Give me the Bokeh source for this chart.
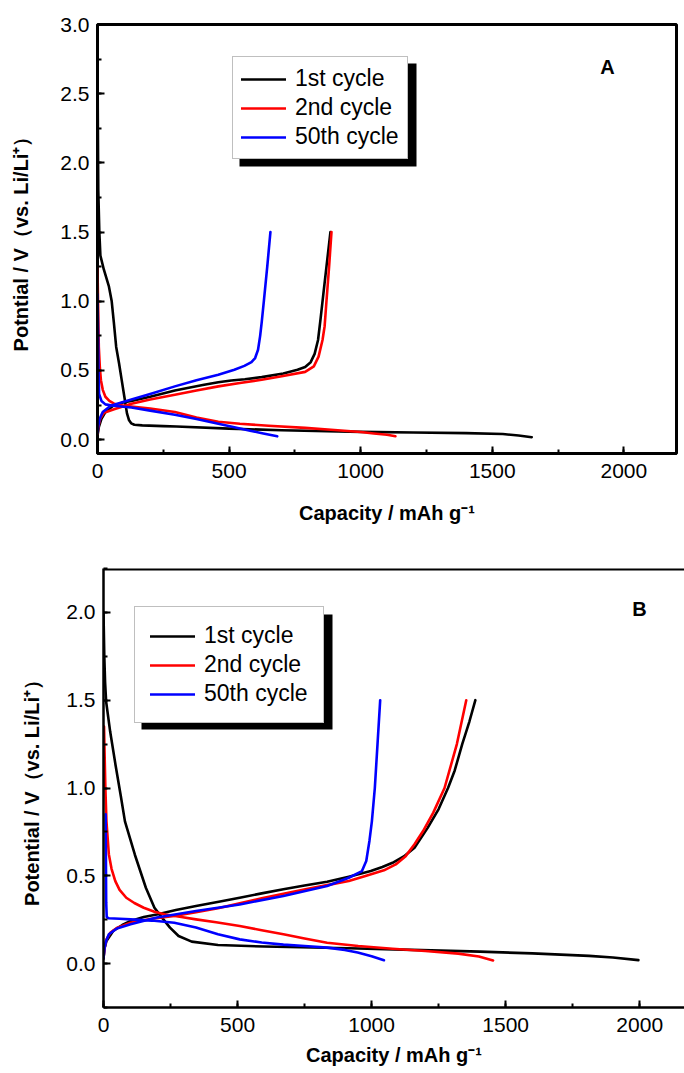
from bokeh.plotting import figure
from bokeh.models import (Legend, LegendItem, SingleIntervalTicker, Range1d,
                          BoxAnnotation, Label, Span, PrintfTickFormatter, Spacer)
from bokeh.layouts import column, row
from bokeh.embed import file_html
from bokeh.resources import INLINE

FONT = "Liberation Sans"

# ---------------- data: panel A ----------------
a1_dis_x = [0, 1, 3, 7, 11, 24, 43, 54, 62, 71, 82, 92, 102, 112, 120, 128, 140, 170, 250, 300, 500, 700, 1000, 1200, 1400, 1540, 1600, 1650]
a1_dis_y = [2.95, 2.4, 1.8, 1.5, 1.33, 1.23, 1.11, 1.0, 0.85, 0.67, 0.55, 0.43, 0.31, 0.19, 0.14, 0.118, 0.108, 0.103, 0.098, 0.095, 0.08, 0.068, 0.056, 0.052, 0.047, 0.041, 0.03, 0.018]
a1_chg_x = [0, 5, 15, 30, 60, 100, 129, 200, 294, 400, 459, 508, 560, 624, 706, 760, 789, 810, 825, 838, 848, 858, 870, 885]
a1_chg_y = [0.03, 0.09, 0.15, 0.2, 0.245, 0.27, 0.28, 0.31, 0.355, 0.395, 0.415, 0.428, 0.437, 0.452, 0.478, 0.505, 0.525, 0.56, 0.62, 0.72, 0.88, 1.05, 1.25, 1.5]

a2_dis_x = [0, 2, 5, 9, 13, 20, 30, 45, 63, 100, 129, 200, 294, 376, 459, 541, 650, 789, 900, 1000, 1050, 1100, 1132]
a2_dis_y = [1.25, 1.0, 0.67, 0.52, 0.43, 0.36, 0.31, 0.28, 0.26, 0.245, 0.24, 0.225, 0.2, 0.16, 0.13, 0.115, 0.1, 0.085, 0.07, 0.055, 0.045, 0.035, 0.025]
a2_chg_x = [0, 4, 10, 25, 63, 129, 200, 294, 376, 459, 541, 624, 700, 789, 822, 840, 855, 863, 870, 880, 889]
a2_chg_y = [0.04, 0.1, 0.15, 0.195, 0.22, 0.26, 0.29, 0.325, 0.355, 0.385, 0.41, 0.433, 0.458, 0.49, 0.53, 0.6, 0.72, 0.82, 1.0, 1.25, 1.5]

a50_dis_x = [0, 2, 4, 6, 15, 30, 60, 129, 200, 294, 376, 459, 520, 580, 630, 683]
a50_dis_y = [1.05, 0.8, 0.5, 0.33, 0.28, 0.255, 0.245, 0.232, 0.21, 0.18, 0.15, 0.115, 0.09, 0.065, 0.045, 0.024]
a50_chg_x = [0, 3, 8, 20, 50, 129, 200, 294, 376, 459, 520, 558, 585, 599, 610, 618, 624, 632, 645, 657]
a50_chg_y = [0.05, 0.1, 0.15, 0.2, 0.245, 0.29, 0.33, 0.385, 0.43, 0.469, 0.505, 0.533, 0.56, 0.59, 0.65, 0.75, 0.85, 1.0, 1.25, 1.5]

# ---------------- data: panel B ----------------
b1_dis_x = [0, 3, 6, 10, 25, 45, 65, 80, 117, 158, 190, 218, 248, 280, 329, 427, 600, 915, 1150, 1404, 1600, 1811, 1900, 1995]
b1_dis_y = [2.0, 1.75, 1.6, 1.49, 1.32, 1.13, 0.95, 0.81, 0.62, 0.432, 0.318, 0.262, 0.205, 0.157, 0.125, 0.106, 0.097, 0.087, 0.078, 0.068, 0.058, 0.044, 0.035, 0.02]
b1_chg_x = [0, 3, 11, 36, 70, 101, 150, 199, 270, 345, 430, 508, 590, 671, 750, 834, 915, 997, 1040, 1078, 1120, 1160, 1209, 1250, 1285, 1310, 1338, 1365, 1387]
b1_chg_y = [0.03, 0.08, 0.129, 0.186, 0.22, 0.243, 0.265, 0.28, 0.305, 0.328, 0.352, 0.375, 0.4, 0.423, 0.445, 0.466, 0.495, 0.527, 0.55, 0.574, 0.61, 0.66, 0.773, 0.88, 1.0, 1.1, 1.25, 1.38, 1.5]

b2_dis_x = [2, 4, 7, 11, 20, 30, 44, 60, 85, 115, 150, 190, 231, 290, 345, 420, 508, 590, 671, 750, 834, 950, 1078, 1200, 1323, 1400, 1453]
b2_dis_y = [1.35, 1.2, 1.0, 0.81, 0.622, 0.54, 0.47, 0.42, 0.375, 0.345, 0.318, 0.295, 0.28, 0.265, 0.252, 0.235, 0.214, 0.19, 0.167, 0.143, 0.119, 0.1, 0.085, 0.072, 0.057, 0.04, 0.018]
b2_chg_x = [0, 4, 11, 25, 52, 101, 180, 264, 345, 427, 508, 590, 671, 753, 834, 915, 980, 1046, 1090, 1127, 1160, 1192, 1230, 1272, 1318, 1353]
b2_chg_y = [0.03, 0.09, 0.138, 0.175, 0.205, 0.233, 0.255, 0.271, 0.293, 0.315, 0.343, 0.372, 0.398, 0.423, 0.447, 0.47, 0.5, 0.531, 0.565, 0.612, 0.68, 0.755, 0.86, 1.0, 1.25, 1.5]

b50_dis_x = [8, 9, 10, 12, 20, 60, 101, 180, 264, 345, 427, 508, 590, 671, 750, 834, 900, 948, 1000, 1046]
b50_dis_y = [0.85, 0.6, 0.35, 0.265, 0.258, 0.255, 0.252, 0.245, 0.233, 0.205, 0.167, 0.138, 0.12, 0.108, 0.1, 0.091, 0.078, 0.063, 0.042, 0.019]
b50_chg_x = [0, 4, 10, 20, 50, 101, 199, 345, 508, 671, 834, 915, 964, 980, 992, 1001, 1012, 1022, 1032]
b50_chg_y = [0.03, 0.09, 0.13, 0.167, 0.2, 0.224, 0.262, 0.3, 0.337, 0.385, 0.442, 0.489, 0.527, 0.584, 0.7, 0.81, 1.0, 1.25, 1.5]

labels = ["1st cycle", "2nd cycle", "50th cycle"]
colors = ["black", "#ff0000", "#0000ff"]

LW = 2.6


def style_axis(ax, interval, label_standoff=8, title_standoff=10, fmt=None):
    ax.ticker = SingleIntervalTicker(interval=interval, num_minor_ticks=2)
    if fmt:
        ax.formatter = PrintfTickFormatter(format=fmt)
    ax.axis_line_width = 2.5
    ax.axis_line_color = "black"
    ax.major_tick_in = 7
    ax.major_tick_out = 0
    ax.minor_tick_in = 4
    ax.minor_tick_out = 0
    ax.major_tick_line_width = 2
    ax.minor_tick_line_width = 2
    ax.major_tick_line_color = "black"
    ax.minor_tick_line_color = "black"
    ax.major_label_text_font = FONT
    ax.major_label_text_font_size = "21px"
    ax.major_label_text_color = "black"
    ax.major_label_standoff = label_standoff
    ax.axis_label_text_font = FONT
    ax.axis_label_text_font_style = "bold"
    ax.axis_label_text_font_size = "20px"
    ax.axis_label_text_color = "black"
    ax.axis_label_standoff = title_standoff


def make_panel(width, height, borders, xmax, yr, ytitle, series, tag, tag_pos,
               legend_loc, legend_pad, shadow, outline, ylab_standoff, xlab_standoff, xtick_standoff):
    top, left, bottom, right = borders
    p = figure(width=width, height=height, output_backend="svg", toolbar_location=None,
               x_range=Range1d(0, xmax), y_range=Range1d(*yr),
               min_border_top=top, min_border_left=left, min_border_bottom=bottom,
               min_border_right=right, background_fill_color="white", border_fill_color="white")
    p.grid.visible = False
    p.outline_line_color = "black" if outline else None
    p.outline_line_width = 3
    style_axis(p.xaxis[0], 500, label_standoff=xtick_standoff, title_standoff=xlab_standoff)
    style_axis(p.yaxis[0], 0.5, label_standoff=8, title_standoff=ylab_standoff, fmt="%.1f")
    p.xaxis[0].axis_label = "Capacity / mAh g\u207b\u00b9"
    p.yaxis[0].axis_label = ytitle
    if not outline:
        p.add_layout(Span(location=yr[1], dimension="width", line_color="black", line_width=4))

    # legend shadow (pixel geometry, relative to page, converted to data)
    (fl, fr, ft, fb) = shadow["frame"]
    def px2x(px):
        return (px - fl) / (fr - fl) * xmax
    def py2y(py):
        return yr[0] + (fb - py) / (fb - ft) * (yr[1] - yr[0])
    sx0, sx1, sy0, sy1 = shadow["box"]
    box = BoxAnnotation(left=px2x(sx0), right=px2x(sx1), top=py2y(sy0), bottom=py2y(sy1),
                        fill_color="black", fill_alpha=1.0, line_color=None, level="underlay")
    p.add_layout(box)

    items = []
    for lab, col, (dx, dy, cx, cy) in zip(labels, colors, series):
        r1 = p.line(dx, dy, line_color=col, line_width=LW, line_join="round", line_cap="round")
        p.line(cx, cy, line_color=col, line_width=LW, line_join="round", line_cap="round")
        items.append(LegendItem(label=lab, renderers=[r1]))

    leg = Legend(items=items, location=legend_loc, margin=0, padding=legend_pad,
                 spacing=2, glyph_width=45, glyph_height=20, label_height=20,
                 label_standoff=9, label_text_font=FONT, label_text_font_size="23px",
                 label_text_color="black", border_line_color="#7f7f7f", border_line_width=1,
                 background_fill_color="white", background_fill_alpha=1.0)
    p.add_layout(leg)

    p.add_layout(Label(x=tag_pos[0], y=tag_pos[1], text=tag, text_align="center",
                       text_baseline="middle", text_font=FONT, text_font_style="bold",
                       text_font_size="20px", text_color="black"))
    return p


# Panel A : frame 97..676 x 24..453
pA = make_panel(
    684, 527, (24, 97, 74, 8), 2200, (-0.1, 3.0),
    "Potntial / V\uff08vs. Li/Li\u207a\uff09",
    [(a1_dis_x, a1_dis_y, a1_chg_x, a1_chg_y),
     (a2_dis_x, a2_dis_y, a2_chg_x, a2_chg_y),
     (a50_dis_x, a50_dis_y, a50_chg_x, a50_chg_y)],
    "A", (1938, 2.69), (135, 294), 8,
    {"frame": (97, 676, 24, 453), "box": (239, 416, 63, 166)},
    True, 25, 21, 10)

# Panel B : frame 103..684 x 568..1007 (figure placed 6 px to the right)
pB = make_panel(
    678, 546, (41, 97, 66, 0), 2167, (-0.25, 2.25),
    "Potential / V\uff08vs. Li/Li\u207a\uff09",
    [(b1_dis_x, b1_dis_y, b1_chg_x, b1_chg_y),
     (b2_dis_x, b2_dis_y, b2_chg_x, b2_chg_y),
     (b50_dis_x, b50_dis_y, b50_chg_x, b50_chg_y)],
    "B", (1999, 2.02), (31, 284), 15,
    {"frame": (103, 684, 568, 1007), "box": (141, 332, 614, 729)},
    False, 20, 9, 10)

layout = column(row(pA), row(Spacer(width=6, height=546), pB))
open("out.html", "w").write(file_html(layout, INLINE))
